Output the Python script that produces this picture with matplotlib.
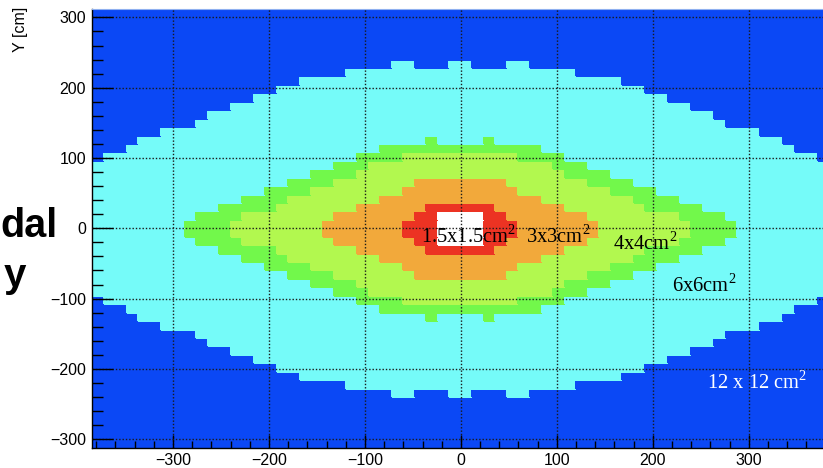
import numpy as np
import matplotlib
matplotlib.use("Agg")
import matplotlib.pyplot as plt
from matplotlib.colors import ListedColormap, BoundaryNorm
from matplotlib.ticker import MultipleLocator

plt.rcParams["mathtext.fontset"] = "custom"
plt.rcParams["mathtext.rm"] = "Liberation Serif"

# ── module grid (12 cm modules, 64 x 52) ─────────────────────────────────────
MODULE = 12
X_HALF = 384
Y_HALF = 312

# Half-height (in modules, measured from y=0) of each zone for the 32 module
# columns of the left half, from x=-384 to x=0.  Map is mirrored in x and y.
cyan_rows = [8, 9, 9, 10, 11, 11, 12, 12, 12, 13, 14, 14, 15, 15, 16, 16,
             17, 17, 18, 18, 18, 18, 19, 19, 19, 19, 20, 20, 19, 19, 19, 20]
green_rows = [0, 0, 0, 0, 0, 0, 0, 0, 1, 2, 2, 3, 3, 4, 4, 5,
              5, 6, 6, 7, 7, 8, 8, 9, 9, 10, 10, 10, 10, 11, 10, 10]
lime_rows = [0, 0, 0, 0, 0, 0, 0, 0, 0, 0, 0, 0, 1, 2, 2, 2,
             3, 4, 4, 5, 5, 6, 6, 7, 8, 8, 8, 9, 9, 9, 9, 9]
orange_rows = [0, 0, 0, 0, 0, 0, 0, 0, 0, 0, 0, 0, 0, 0, 0, 0,
               0, 0, 0, 0, 1, 2, 2, 3, 3, 4, 4, 5, 6, 6, 6, 6]
red_rows = [0, 0, 0, 0, 0, 0, 0, 0, 0, 0, 0, 0, 0, 0, 0, 0,
            0, 0, 0, 0, 0, 0, 0, 0, 0, 0, 0, 1, 2, 3, 3, 3]
hole_rows = [0, 0, 0, 0, 0, 0, 0, 0, 0, 0, 0, 0, 0, 0, 0, 0,
             0, 0, 0, 0, 0, 0, 0, 0, 0, 0, 0, 0, 0, 0, 2, 2]

zone_colors = ["#0B48F5", "#75FBF9", "#72F84B", "#B2F84F",
               "#F2A93B", "#EC3323", "#FFFFFF"]

cell_labels = [r"1.5x1.5cm$^{2}$", r"3x3cm$^{2}$", r"4x4cm$^{2}$",
               r"6x6cm$^{2}$", r"12 x 12 cm$^{2}$"]
label_x = [-42, 68, 159, 220, 256]
label_y = [-21, -21, -31, -90, -228]
label_colors = ["black", "black", "black", "black", "white"]

# ── build zone map ───────────────────────────────────────────────────────────
x_edges = np.arange(-X_HALF, X_HALF + 1, MODULE)
y_edges = np.arange(-Y_HALF, Y_HALF + 1, MODULE)
ncol = len(x_edges) - 1
nrow = len(y_edges) - 1
half_col = ncol // 2
half_row = nrow // 2

zone = np.zeros((nrow, ncol), dtype=int)
for level, rows in enumerate([cyan_rows, green_rows, lime_rows,
                              orange_rows, red_rows, hole_rows], start=1):
    for i in range(ncol):
        q = i if i < half_col else ncol - 1 - i
        for j in range(nrow):
            d = j - half_row if j >= half_row else half_row - 1 - j
            if d < rows[q]:
                zone[j, i] = level

# ── figure ───────────────────────────────────────────────────────────────────
fig = plt.figure(figsize=(8.23, 4.68), dpi=100)
ax = fig.add_axes([92.4 / 823, 1 - 447.6 / 468, 737.0 / 823, 438.6 / 468])

cmap = ListedColormap(zone_colors)
norm = BoundaryNorm(np.arange(-0.5, len(zone_colors) + 0.5), cmap.N)
ax.pcolormesh(x_edges, y_edges, zone, cmap=cmap, norm=norm,
              edgecolors="face", linewidth=0.3, zorder=1)

ax.set_xlim(-X_HALF, X_HALF)
ax.set_ylim(-Y_HALF, Y_HALF)

# ROOT-like axes: inside ticks, dotted grid on major ticks
ax.xaxis.set_major_locator(MultipleLocator(100))
ax.xaxis.set_minor_locator(MultipleLocator(20))
ax.yaxis.set_major_locator(MultipleLocator(100))
ax.yaxis.set_minor_locator(MultipleLocator(20))
ax.tick_params(axis="both", which="both", direction="in", width=1.0,
               color="black", top=False, right=False)
ax.tick_params(axis="x", which="major", length=9.4, pad=4.2)
ax.tick_params(axis="x", which="minor", length=4.7)
ax.tick_params(axis="y", which="major", length=15, pad=4.5)
ax.tick_params(axis="y", which="minor", length=7.7)
for lab in ax.get_xticklabels() + ax.get_yticklabels():
    lab.set_fontfamily("Liberation Sans")
    lab.set_fontsize(11.5)

ax.grid(True, which="major", color="#1a1a1a", linestyle=(0, (1, 1.4)),
        linewidth=1.0)
ax.set_axisbelow(False)
for side in ("left", "bottom"):
    ax.spines[side].set_color("black")
    ax.spines[side].set_linewidth(1.0)
ax.spines["top"].set_color("#8FB0F0")
ax.spines["top"].set_linewidth(0.8)
ax.spines["right"].set_visible(False)

for txt, tx, ty, tc in zip(cell_labels, label_x, label_y, label_colors):
    ax.text(tx, ty, txt, color=tc, fontsize=14.8, family="Liberation Serif",
            ha="left", va="baseline", zorder=5)

fig.text(20 / 823, 1 - 7 / 468, "Y [cm]", rotation=90, ha="center", va="top",
         fontsize=11.5, family="Liberation Sans")

# slide title fragments peeking in from the left
fig.text(0.0, 1 - 237 / 468, "dal", ha="left", va="baseline",
         fontsize=28.5, fontweight="bold", family="Liberation Sans")
fig.text(26 / 823, 1 - 287 / 468, "y", ha="right", va="baseline",
         fontsize=29, fontweight="bold", family="Liberation Sans")

fig.savefig("out.png", dpi=100)
